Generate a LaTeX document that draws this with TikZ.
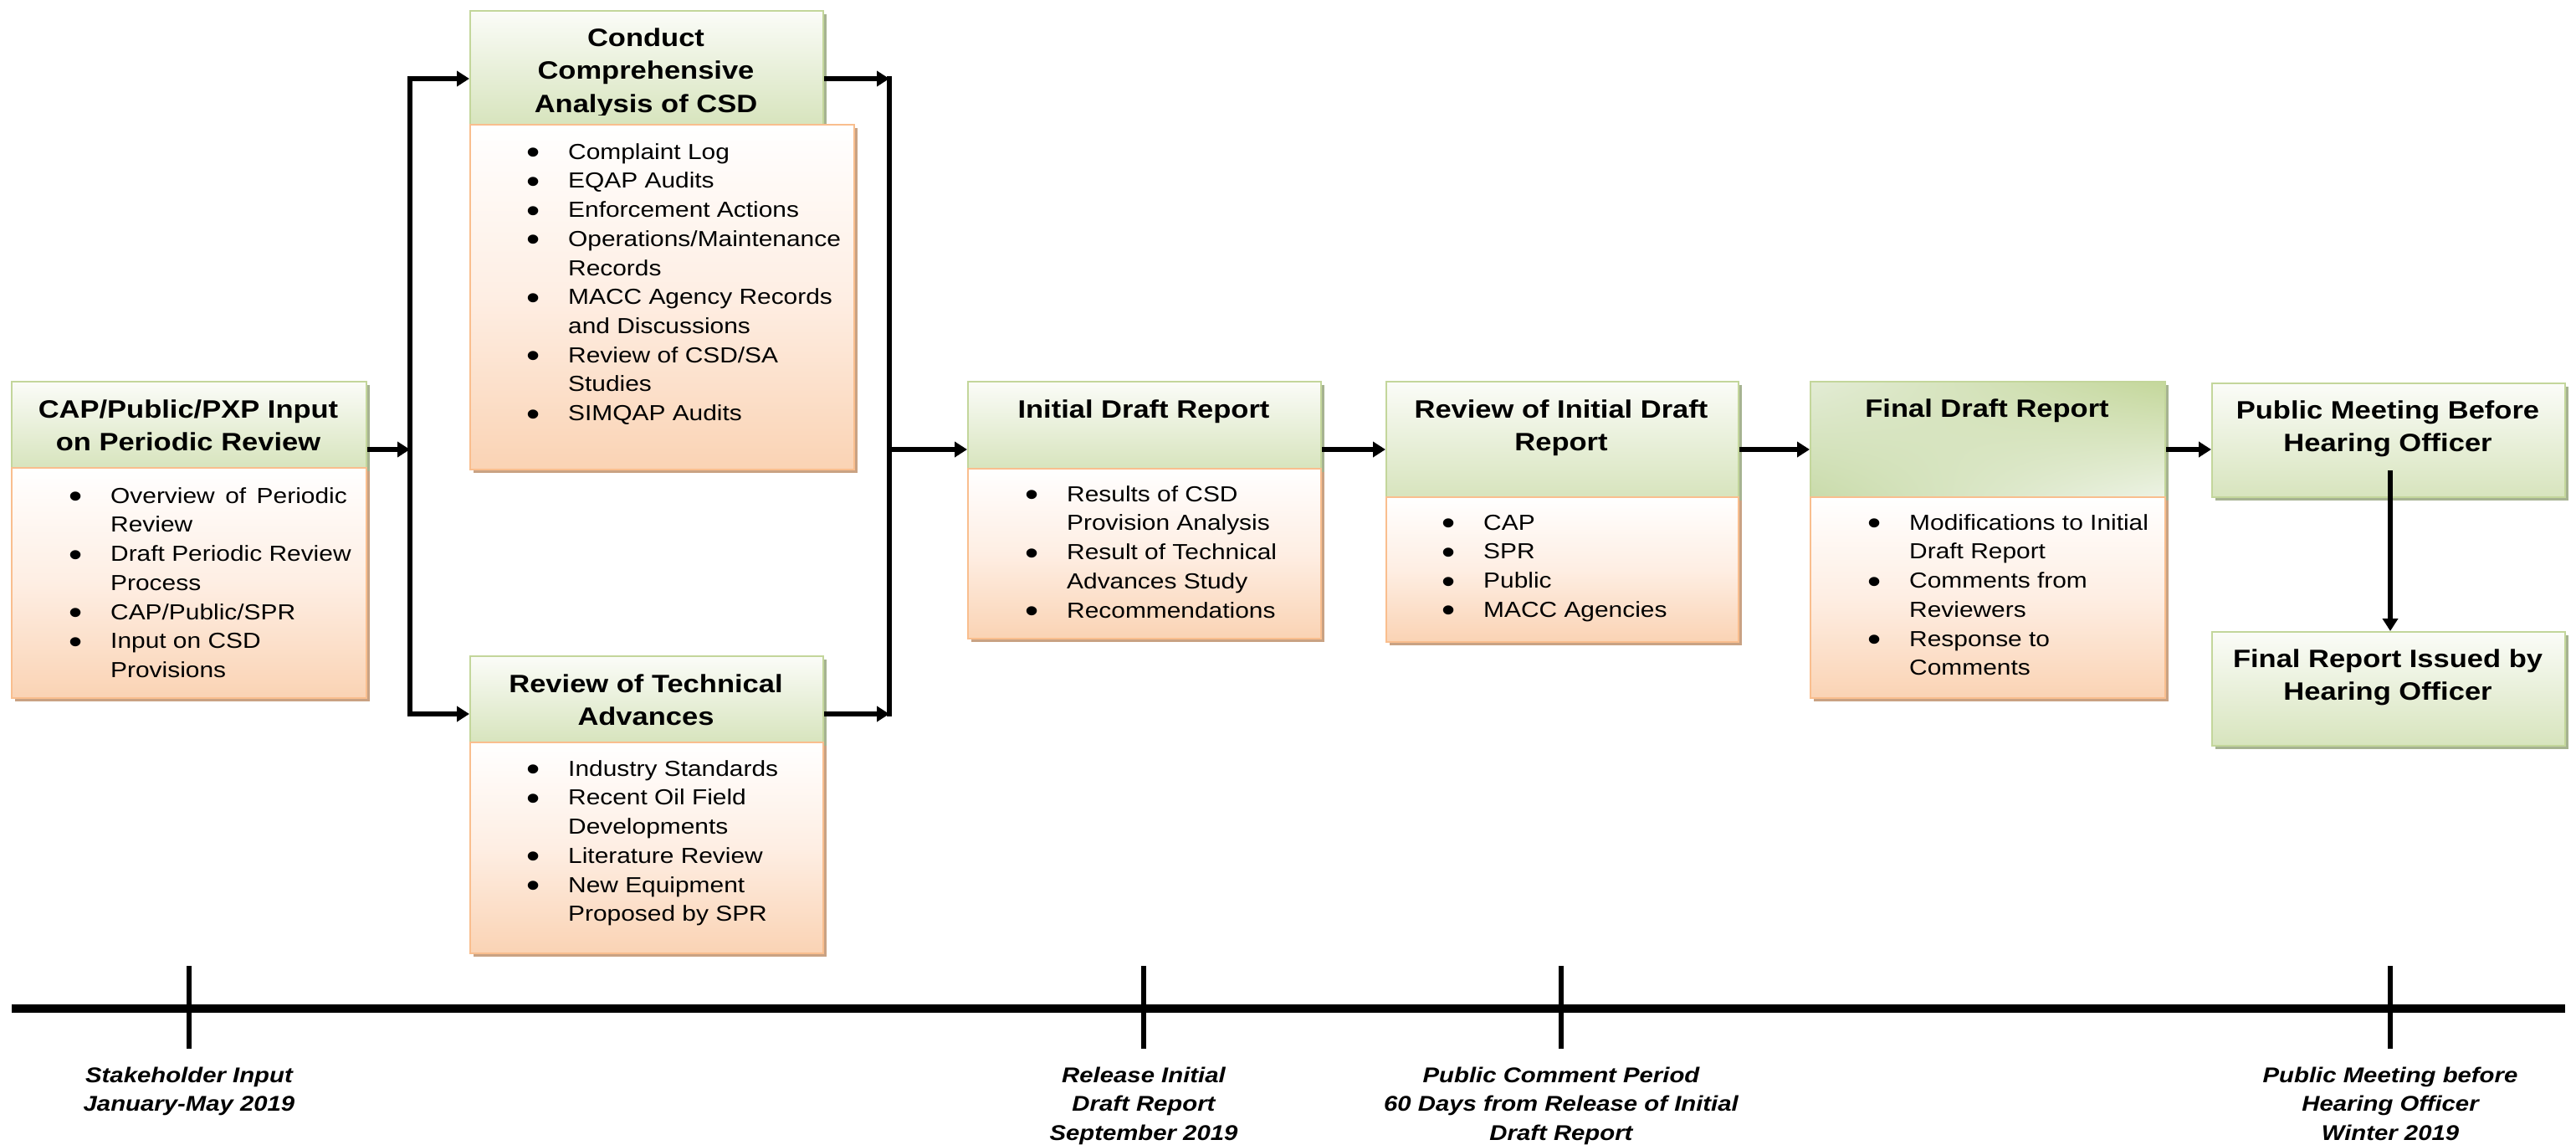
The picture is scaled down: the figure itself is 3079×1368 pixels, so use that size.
\documentclass[tikz,border=0pt]{standalone}
\usepackage{fontspec}
\setmainfont{Liberation Sans}[FakeStretch=1.15]
\usetikzlibrary{shadows,shadings,arrows.meta}
\definecolor{gtop}{HTML}{FBFCF8}
\definecolor{gbot}{HTML}{D7E4BD}
\definecolor{gbord}{HTML}{C3D69B}
\definecolor{gshad}{HTML}{A6B391}
\definecolor{omid}{HTML}{FEEEE3}
\definecolor{obot}{HTML}{FAD3B4}
\definecolor{obord}{HTML}{F9BE8E}
\definecolor{oshad}{HTML}{C9A283}
\definecolor{fdA}{HTML}{E3ECD5}
\definecolor{fdB}{HTML}{C4D79B}
\definecolor{fdC}{HTML}{C9DBAA}
\definecolor{fdD}{HTML}{EDF3E5}
\newcommand\bul{\llap{\raisebox{-5.5pt}{\fontsize{40}{40}\selectfont\textbullet}\hspace{34pt}}}
\newcommand\hstr{\rule{0pt}{25pt}}
\newcommand\lstr{\rule{0pt}{22pt}}
\newcommand\tstr{\rule{0pt}{21pt}}
\begin{document}
\begin{tikzpicture}[x=1pt,y=-1pt,
  hdr/.style={draw=gbord, line width=2pt, top color=gtop, bottom color=gbot,
    anchor=north west, inner sep=0pt,
    general shadow={fill=gshad, shadow xshift=4pt, shadow yshift=-4pt}},
  hdrsheen/.style={draw=gbord, line width=2pt, shade, upper left=fdA, upper right=fdB,
    lower left=fdC, lower right=fdD, anchor=north west, inner sep=0pt,
    general shadow={fill=gshad, shadow xshift=4pt, shadow yshift=-4pt}},
  bdy/.style={draw=obord, line width=2pt, top color=white, bottom color=obot, middle color=omid,
    anchor=north west, inner sep=0pt,
    general shadow={fill=oshad, shadow xshift=4pt, shadow yshift=-4pt}},
  htxt/.style={font=\fontsize{30}{39.5}\selectfont\bfseries, align=center, anchor=north, inner sep=0pt},
  ltxt/.style={font=\fontsize{26}{34.7}\selectfont, align=left, anchor=north west, inner sep=0pt},
  ttxt/.style={font=\fontsize{25.5}{34.5}\selectfont\bfseries\itshape, align=center, anchor=north, inner sep=0pt},
  arr/.style={line width=6pt, -{Triangle[length=15pt,width=18pt]}},
  conn/.style={line width=6pt, line cap=rect},
  tline/.style={line width=10pt},
  tick/.style={line width=5.5pt},
]
\useasboundingbox (0,0) rectangle (3079,1368);
\fill[white] (0,0) rectangle (3079,1368);

% ---- boxes ----
\node[hdr, minimum width=424pt, minimum height=103pt] (h1) at (13,455) {};
\node[bdy, minimum width=424pt, minimum height=275pt] (b1) at (13,558) {};
\node[hdr, minimum width=422pt, minimum height=136pt] (h2) at (561,12) {};
\node[bdy, minimum width=459pt, minimum height=412pt] (b2) at (561,148) {};
\node[hdr, minimum width=422pt, minimum height=103pt] (h3) at (561,783) {};
\node[bdy, minimum width=422pt, minimum height=252pt] (b3) at (561,886) {};
\node[hdr, minimum width=422pt, minimum height=104pt] (h4) at (1156,455) {};
\node[bdy, minimum width=422pt, minimum height=203pt] (b4) at (1156,559) {};
\node[hdr, minimum width=421pt, minimum height=138pt] (h5) at (1656,455) {};
\node[bdy, minimum width=421pt, minimum height=173pt] (b5) at (1656,593) {};
\node[hdrsheen, minimum width=424pt, minimum height=138pt] (h6) at (2163,455) {};
\node[bdy, minimum width=424pt, minimum height=240pt] (b6) at (2163,593) {};
\node[hdr, minimum width=422pt, minimum height=136pt] (h7) at (2643,457) {};
\node[hdr, minimum width=422pt, minimum height=136pt] (h8) at (2643,754) {};

% ---- header texts ----
\node[htxt] (t1) at (225,474) {\hstr CAP/Public/PXP Input\\on Periodic Review};
\begin{scope}
  \clip (561,12) rectangle (983,137);
  \node[htxt] (t2) at (772,30) {\hstr Conduct\\Comprehensive\\Analysis of CSD};
\end{scope}
\node[htxt] (t3) at (772,802) {\hstr Review of Technical\\Advances};
\node[htxt] (t4) at (1367,474) {\hstr Initial Draft Report};
\node[htxt] (t5) at (1866,474) {\hstr Review of Initial Draft\\Report};
\node[htxt] (t6) at (2375,473) {\hstr Final Draft Report};
\node[htxt] (t7) at (2854,475) {\hstr Public Meeting Before\\Hearing Officer};
\node[htxt] (t8) at (2854,772) {\hstr Final Report Issued by\\Hearing Officer};

% ---- bullet lists ----
\node[ltxt] (l1) at (132,579) {\lstr\bul Overview\hspace{12.5pt}of\hspace{12.5pt}Periodic\\Review\\\bul Draft Periodic Review\\Process\\\bul CAP/Public/SPR\\\bul Input on CSD\\Provisions};
\node[ltxt] (l2) at (679,168) {\lstr\bul Complaint Log\\\bul EQAP Audits\\\bul Enforcement Actions\\\bul Operations/Maintenance\\Records\\\bul MACC Agency Records\\and Discussions\\\bul Review of CSD/SA\\Studies\\\bul SIMQAP Audits};
\node[ltxt] (l3) at (679,905) {\lstr\bul Industry Standards\\\bul Recent Oil Field\\Developments\\\bul Literature Review\\\bul New Equipment\\Proposed by SPR};
\node[ltxt] (l4) at (1275,577) {\lstr\bul Results of CSD\\Provision Analysis\\\bul Result of Technical\\Advances Study\\\bul Recommendations};
\node[ltxt] (l5) at (1773,611) {\lstr\bul CAP\\\bul SPR\\\bul Public\\\bul MACC Agencies};
\node[ltxt] (l6) at (2282,611) {\lstr\bul Modifications to Initial\\Draft Report\\\bul Comments from\\Reviewers\\\bul Response to\\Comments};

% ---- connectors ----
\coordinate (mid) at (0,537);
\coordinate (v1t) at (490,94);
\coordinate (v1b) at (490,853);
\coordinate (v2t) at (1063,94);
\coordinate (v2b) at (1063,853);
\coordinate (a7) at (2857,562);

\draw[arr] (h1.east |- mid) -- (v1t |- mid);
\draw[conn] (v1t) -- (v1b);
\draw[arr] (v1t) -- (h2.west |- v1t);
\draw[arr] (v1b) -- (h3.west |- v1b);
\draw[arr] (h2.east |- v2t) -- (v2t);
\draw[arr] (h3.east |- v2b) -- (v2b);
\draw[conn] (v2t) -- (v2b);
\draw[arr] (v2t |- mid) -- (h4.west |- mid);
\draw[arr] (h4.east |- mid) -- (h5.west |- mid);
\draw[arr] (h5.east |- mid) -- (h6.west |- mid);
\draw[arr] (h6.east |- mid) -- (h7.west |- mid);
\draw[arr] (a7) -- (a7 |- h8.north);

% ---- timeline ----
\coordinate (tl0) at (14,1205);
\coordinate (tl1) at (3066,1205);
\draw[tline] (tl0) -- (tl1);
\coordinate (k1a) at (226,1154); \coordinate (k1b) at (226,1253);
\coordinate (k2a) at (1367,1154); \coordinate (k2b) at (1367,1253);
\coordinate (k3a) at (1866,1154); \coordinate (k3b) at (1866,1253);
\coordinate (k4a) at (2857,1154); \coordinate (k4b) at (2857,1253);
\draw[tick] (k1a) -- (k1b);
\draw[tick] (k2a) -- (k2b);
\draw[tick] (k3a) -- (k3b);
\draw[tick] (k4a) -- (k4b);
\node[ttxt] (m1) at (226,1272) {\tstr Stakeholder Input\\January-May 2019};
\node[ttxt] (m2) at (1367,1272) {\tstr Release Initial\\Draft Report\\September 2019};
\node[ttxt] (m3) at (1866,1272) {\tstr Public Comment Period\\60 Days from Release of Initial\\Draft Report};
\node[ttxt] (m4) at (2857,1272) {\tstr Public Meeting before\\Hearing Officer\\Winter 2019};
\end{tikzpicture}
\end{document}
